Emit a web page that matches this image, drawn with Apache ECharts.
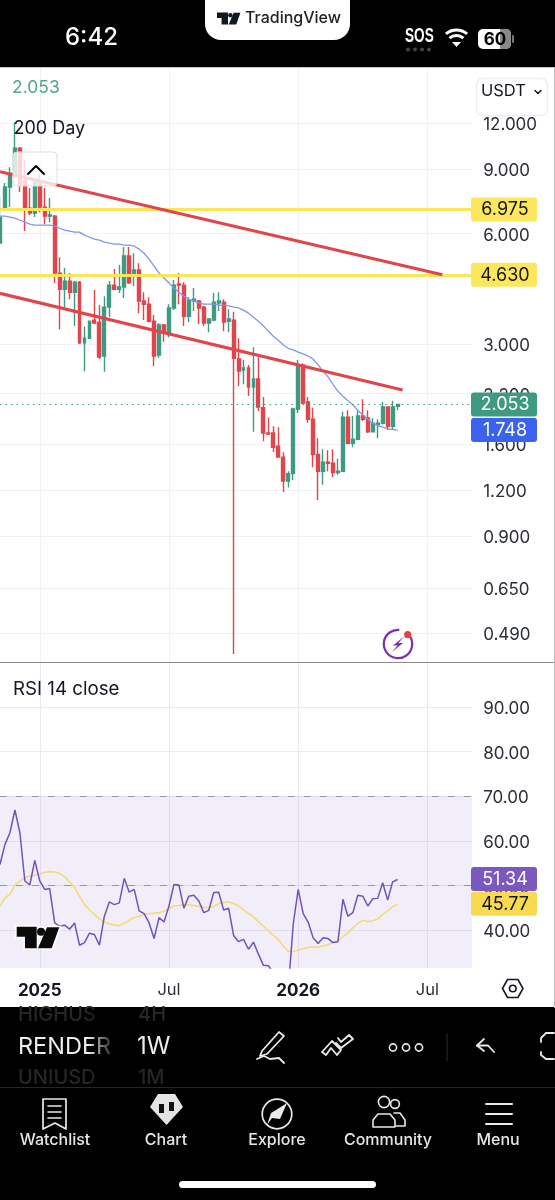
<!DOCTYPE html>
<html><head><meta charset="utf-8">
<style>html,body{margin:0;padding:0;background:#000}#c{width:555px;height:1200px}</style>
<script src="https://cdn.jsdelivr.net/npm/echarts@6/dist/echarts.min.js"></script>
</head><body><div id="c"></div>
<script>
// weekly candles, oldest visible first
const opens=[5.65,7.03,8.03,8.65,10.25,8.38,7.03,6.82,8.23,7.08,6.69,6.69,4.68,4.23,4.45,4.15,4.42,3.02,3.11,3.485,3.44,2.78,3.78,4.34,4.23,4.29,5.21,4.65,4.77,3.93,3.85,3.46,2.80,3.38,3.23,3.76,4.37,4.34,3.57,3.93,3.93,3.78,3.42,3.485,3.88,3.90,3.46,3.485,2.73,2.547,2.58,2.29,2.41,2.01,1.716,1.716,1.58,1.475,1.27,1.33,1.995,2.63,2.085,1.87,1.50,1.35,1.43,1.42,1.34,1.35,1.895,1.61,1.65,1.91,1.885,1.73,1.81,1.825,2.02,1.79,2.03];
const closes=[6.64,8.03,8.76,10.25,8.13,7.03,6.82,8.28,7.08,6.69,6.735,4.68,4.23,4.45,4.15,4.42,3.02,3.11,3.46,3.42,2.765,3.78,4.34,4.23,4.29,5.21,4.40,4.77,3.93,3.85,3.46,2.78,3.38,3.21,3.76,4.34,4.34,3.57,3.95,3.97,3.76,3.42,3.51,3.90,3.93,3.44,3.51,2.74,2.53,2.58,2.29,2.41,2.02,1.716,1.705,1.57,1.475,1.27,1.33,1.995,2.61,2.07,1.87,1.50,1.35,1.43,1.42,1.34,1.35,1.895,1.61,1.65,1.91,1.87,1.73,1.825,1.825,2.02,1.79,2.02,2.053];
const highs=[7.54,8.23,9.09,12.06,10.32,9.50,7.98,8.33,8.76,7.98,7.49,6.735,5.17,4.83,4.68,4.45,4.45,3.34,3.46,4.206,3.83,4.05,4.45,4.80,4.92,5.51,5.51,5.30,4.98,4.15,4.02,3.60,3.42,3.40,3.85,4.478,4.68,4.42,4.02,4.26,3.95,3.81,3.53,4.13,4.15,3.97,3.73,3.67,3.11,2.712,2.63,2.94,2.76,2.15,1.89,1.79,1.78,1.52,1.35,2.01,2.712,2.66,2.15,2.01,1.66,1.55,1.54,1.55,1.46,1.96,1.98,1.91,1.97,2.12,1.98,1.885,1.87,2.085,2.02,2.10,2.06];
const lows=[5.65,6.95,7.08,8.49,7.78,6.09,6.735,6.65,6.86,6.36,6.44,4.40,3.29,3.78,3.97,3.36,3.00,2.53,3.09,3.40,2.73,2.52,3.55,4.21,4.13,4.00,4.37,4.31,3.64,3.485,3.44,2.61,2.75,3.04,3.13,3.71,3.85,3.36,3.44,3.69,3.40,3.36,3.23,3.46,3.69,3.25,3.23,0.429,2.30,2.33,2.165,1.73,1.97,1.63,1.695,1.52,1.475,1.185,1.22,1.278,1.945,2.055,1.83,1.385,1.127,1.24,1.35,1.30,1.32,1.35,1.60,1.57,1.65,1.85,1.716,1.73,1.66,1.81,1.748,1.748,1.98];
const priceMA=[6.69,6.69,6.65,6.61,6.52,6.44,6.36,6.32,6.32,6.32,6.32,6.28,6.20,6.13,6.09,6.05,6.05,5.94,5.86,5.79,5.755,5.68,5.65,5.61,5.61,5.58,5.58,5.54,5.44,5.30,5.11,4.89,4.68,4.54,4.40,4.26,4.15,4.05,3.97,3.93,3.88,3.85,3.85,3.85,3.83,3.83,3.81,3.78,3.76,3.71,3.64,3.55,3.46,3.36,3.25,3.15,3.07,2.98,2.92,2.89,2.85,2.82,2.78,2.73,2.63,2.53,2.44,2.33,2.23,2.16,2.10,2.05,1.98,1.92,1.87,1.825,1.80,1.78,1.76,1.755,1.748];
const rsi=[54.7,59.2,61.8,66.9,61.8,51.0,50.1,55.6,51.0,49.1,49.3,41.6,40.9,41.1,40.2,41.6,36.6,37.2,39.3,39.0,36.6,43.1,46.3,45.7,46.1,51.6,48.5,49.1,44.3,43.7,41.6,38.1,42.8,41.8,45.4,50.2,50.1,44.9,47.6,47.8,46.5,43.9,44.4,48.4,48.5,44.5,44.9,38.8,37.4,37.9,35.7,37.3,34.6,32.1,32.0,30.5,29.5,27.5,26.7,41.3,49.1,43.7,41.8,38.3,37.0,38.3,38.1,37.2,37.4,46.9,43.1,43.9,47.8,47.6,45.4,47.0,47.1,50.6,46.7,50.8,51.34];
const rsiMA=[45.4,47.2,48.0,50.0,51.0,51.7,52.1,52.3,52.6,52.9,53.1,53.0,52.7,51.9,50.8,49.5,47.6,45.7,44.5,43.5,42.5,41.8,41.4,41.1,41.0,41.5,42.2,42.8,43.1,43.5,43.7,43.7,43.9,44.2,44.8,45.4,45.5,45.7,45.6,45.5,45.3,45.1,45.0,45.3,45.9,46.2,46.3,46.0,45.4,44.5,43.7,43.0,41.8,40.9,39.8,38.8,37.9,36.4,35.2,35.2,35.5,35.8,36.1,36.2,36.2,36.4,36.7,37.2,37.5,38.5,39.4,40.5,41.5,42.2,41.9,42.1,42.5,43.5,44.3,45.2,45.77];
const trendUpper=[[0,8.84],[89,4.63]];
const trendLower=[[0,4.12],[81,2.247]];
const levelHigh=6.975, levelLow=4.63;
const lastPrice=2.053, lastMA=1.748;
const priceGridTicks=[15.5,12,9,6,3,2.2,1.6,1.2,0.9,0.65,0.49];
const priceLabelTicks=[12,9,6,3,2.2,1.6,1.2,0.9,0.65,0.49];
const rsiTicks=[90,80,70,60,50,40];
const xTickIndex=[8,34,60,86];
const xTickLabels=['2025','Jul','2026','Jul'];
const categories=Array.from({length:96},(_,i)=>'w'+i);

const FONT='Inter, "Liberation Sans", sans-serif';
const GREEN='#3f9a82',RED='#e1454c',GRID='#f1f1f1';
const isTick=i=>xTickIndex.includes(i);
const candles=opens.map((o,i)=>[o,closes[i],lows[i],highs[i]]);
const chart=echarts.init(document.getElementById('c'),null,{renderer:'canvas'});
const noLine={show:false};
const axisRich={a:{fontFamily:FONT,fontSize:17,color:'#2a2e39',padding:[4,0,0,0]}};

const option={
  animation:false,backgroundColor:'#fff',
  grid:[{left:0,right:82.85,top:67,height:595},{left:0,right:82.85,top:663,height:305}],
  xAxis:[
    {type:'category',gridIndex:0,data:categories,boundaryGap:false,axisLine:noLine,axisTick:noLine,axisLabel:{show:false},
     splitLine:{show:true,interval:(i)=>isTick(i),lineStyle:{color:GRID,width:1}}},
    {type:'category',gridIndex:1,data:categories,boundaryGap:false,axisLine:noLine,axisTick:noLine,
     splitLine:{show:true,interval:(i)=>isTick(i),lineStyle:{color:'#ebe9f1',width:1}},
     axisLabel:{show:true,interval:(i)=>isTick(i),margin:14,hideOverlap:false,
       formatter:(v,i)=>{const k=xTickIndex.indexOf(i);if(k<0)return '';const s=xTickLabels[k];return /^\d/.test(s)?'{b|'+s+'}':'{n|'+s+'}';},
       rich:{b:{fontFamily:FONT,fontSize:17,fontWeight:700,color:'#131722'},n:{fontFamily:FONT,fontSize:16.5,color:'#2a2e39'}}}}
  ],
  yAxis:[
    {type:'log',logBase:10,gridIndex:0,position:'right',min:0.408,max:17.05,axisLine:noLine,
     axisTick:{show:false,customValues:priceLabelTicks},
     splitLine:{show:true,customValues:priceGridTicks,lineStyle:{color:GRID,width:1}},minorSplitLine:{show:false},
     axisLabel:{show:true,customValues:priceLabelTicks,margin:11,formatter:v=>'{a|'+Number(v).toFixed(3)+'}',rich:axisRich}},
    {type:'value',gridIndex:1,position:'right',min:31.5,max:99.84,axisLine:noLine,
     axisTick:{show:false,customValues:rsiTicks},
     splitLine:{show:true,customValues:rsiTicks,lineStyle:{color:'#ebe9f1',width:1}},
     axisLabel:{show:true,customValues:rsiTicks,margin:11,formatter:v=>'{a|'+Number(v).toFixed(2)+'}',rich:axisRich}}
  ],
  series:[
    {type:'candlestick',name:'RENDER',xAxisIndex:0,yAxisIndex:0,data:candles,barWidth:3.4,z:3,silent:true,
     itemStyle:{color:GREEN,color0:RED,borderColor:GREEN,borderColor0:RED,borderWidth:1.4}},
    {type:'line',name:'MA',xAxisIndex:0,yAxisIndex:0,data:priceMA,symbol:'none',z:4,silent:true,lineStyle:{color:'#7f97e8',width:1.3},
     markLine:{silent:true,symbol:'none',label:{show:false},animation:false,data:[
       {yAxis:levelHigh,lineStyle:{color:'#fbe65a',width:3,type:'solid'}},
       {yAxis:levelLow,lineStyle:{color:'#fbe65a',width:3,type:'solid'}},
       {yAxis:lastPrice,lineStyle:{color:GREEN,width:1.2,type:[1.5,4]}}]}},
    {type:'line',name:'TrendU',xAxisIndex:0,yAxisIndex:0,data:trendUpper,symbol:'none',z:5,silent:true,lineStyle:{color:RED,width:3.2}},
    {type:'line',name:'TrendL',xAxisIndex:0,yAxisIndex:0,data:trendLower,symbol:'none',z:5,silent:true,lineStyle:{color:RED,width:3.2}},
    {type:'line',name:'RSI',xAxisIndex:1,yAxisIndex:1,data:rsi,symbol:'none',z:5,silent:true,lineStyle:{color:'#7154b8',width:1.5},
     markArea:{silent:true,itemStyle:{color:'rgba(126,87,194,0.10)'},data:[[{yAxis:70},{yAxis:31.5}]]},
     markLine:{silent:true,symbol:'none',label:{show:false},animation:false,data:[
       {yAxis:70,lineStyle:{color:'#9a97a3',width:1,type:[7,9]}},
       {yAxis:50,lineStyle:{color:'#9a97a3',width:1,type:[7,9]}}]}},
    {type:'line',name:'RSI MA',xAxisIndex:1,yAxisIndex:1,data:rsiMA,symbol:'none',z:4,silent:true,lineStyle:{color:'#efdc78',width:1.6}}
  ]
};
chart.setOption(option);

// --- chrome and overlays ---
const g=[];
const T=(x,y,text,o={})=>g.push({type:'text',z:200,silent:true,x,y,scaleX:o.sx||1,style:{text,fontFamily:o.font||FONT,fontSize:o.size||17,fontWeight:o.weight||400,fill:o.fill||'#131722',textAlign:o.align||'left',textVerticalAlign:'middle',opacity:o.op==null?1:o.op}});
const R=(x,y,w,h,fill,o={})=>g.push({type:'rect',z:o.z||150,silent:true,shape:{x,y,width:w,height:h,r:o.r||0},style:{fill,stroke:o.stroke||null,lineWidth:o.lw||1}});
const P=(points,stroke,lw=2,o={})=>g.push({type:'polyline',z:210,silent:true,shape:{points},style:{stroke:stroke,lineWidth:lw,fill:null,lineCap:'round',lineJoin:'round'}});
const C=(cx,cy,r,stroke,lw=2,fill=null)=>g.push({type:'circle',z:210,silent:true,shape:{cx,cy,r},style:{stroke,lineWidth:lw,fill}});
const A=(cx,cy,r,s,e,stroke,lw=2)=>g.push({type:'arc',z:210,silent:true,shape:{cx,cy,r,startAngle:s,endAngle:e,clockwise:true},style:{stroke,lineWidth:lw,fill:null}});

const yP=v=>chart.convertToPixel({yAxisIndex:0},v);
const yR=v=>chart.convertToPixel({yAxisIndex:1},v);
const tag=(y,label,bg,fg)=>{R(471,y-12,66,24,bg,{r:3,z:180});T(505,y+.5,label,{align:'center',fill:fg,size:18});};

// top status bar
R(0,0,555,67,'#000');
R(0,67,555,1,'#c9c9c9');
T(65,38,'6:42',{size:24,weight:500,fill:'#fff'});
R(205,-2,145,42,'#fff',{r:[0,0,16,16],z:160});
const logo=(ox,oy,s,fill,stroke)=>{
  const m=(a)=>a.map(p=>[ox+p[0]*s,oy+p[1]*s]);
  const st=stroke||null,lw=stroke?3:0;
  g.push({type:'polygon',z:208,silent:true,shape:{points:m([[0,0],[20,0],[20,21.6],[8.3,21.6],[8.3,10],[0,10]])},style:{fill,stroke:st,lineWidth:lw}});
  g.push({type:'circle',z:208,silent:true,shape:{cx:ox+24.3*s,cy:oy+5*s,r:4*s},style:{fill,stroke:st,lineWidth:lw}});
  g.push({type:'polygon',z:208,silent:true,shape:{points:m([[30.3,.6],[42.6,.6],[35,21.6],[21.3,21.6]])},style:{fill,stroke:st,lineWidth:lw}});
  if(stroke){
    g.push({type:'polygon',z:209,silent:true,shape:{points:m([[0,0],[20,0],[20,21.6],[8.3,21.6],[8.3,10],[0,10]])},style:{fill}});
    g.push({type:'circle',z:209,silent:true,shape:{cx:ox+24.3*s,cy:oy+5*s,r:4*s},style:{fill}});
    g.push({type:'polygon',z:209,silent:true,shape:{points:m([[30.3,.6],[42.6,.6],[35,21.6],[21.3,21.6]])},style:{fill}});
  }
};
logo(217,12.5,.55,'#131722');
T(245,18,'TradingView',{size:16,weight:500,fill:'#222'});
T(405,36,'SOS',{size:20,weight:700,fill:'#fff',sx:.68,font:'"Liberation Sans",sans-serif'});
[0,1,2,3].forEach(i=>C(408+i*7,49.5,2,'#444',0,'#444'));
A(456.5,46,16,Math.PI*1.27,Math.PI*1.73,'#fff',3);
A(456.5,46,10.5,Math.PI*1.27,Math.PI*1.73,'#fff',3);
g.push({type:'polygon',z:210,silent:true,shape:{points:[[456.5,47],[452,42],[461,42]]},style:{fill:'#fff'}});
R(478,29,33,20,'#fff',{r:5,z:190});
R(500,29,11,20,'#888',{r:[0,5,5,0],z:191});
R(512,35,2,8,'#777',{r:1,z:191});
T(495,39.5,'60',{size:17,weight:700,fill:'#000',align:'center'});

// price pane text
T(12,87.5,'2.053',{size:17.5,fill:'#52a78f'});
T(13.5,128.5,'200 Day',{size:18,fill:'#131722'});
R(13,152,44,34,'rgba(255,255,255,0.78)',{r:4,stroke:'#dedede',lw:1,z:160});
P([[28,174],[36,166],[44,174]],'#000',2);
R(476.5,78.5,71,37,'#fff',{r:6,stroke:'#efefef',lw:1.5,z:170});
T(481,91,'USDT',{size:16.5,fill:'#131722'});
P([[535,90.5],[538,93.5],[541,90.5]],'#131722',1.5);

// tags
tag(yP(levelHigh),'6.975','#fce75c','#131722');
tag(yP(levelLow),'4.630','#fce75c','#131722');
tag(yP(lastPrice),'2.053',GREEN,'#fff');
tag(yP(lastMA),'1.748','#3a62ee','#fff');
tag(yR(51.34)-.5,'51.34','#7a58bf','#fff');
tag(yR(45.77)-.5,'45.77','#f7da50','#131722');

// lightning
A(398,644,14.2,-Math.PI*0.2,-Math.PI*0.47+Math.PI*2,'#7e2fae',2.2);
g.push({type:'polygon',z:210,silent:true,shape:{points:[[404,636.5],[393,645.5],[397.5,645.5],[392,652],[403,643],[398.5,643]]},style:{fill:'#7e2fae'}});
C(407.7,634.7,3.6,'#fff',0,'#e8413f');

// separators
R(0,662,555,1,'#8a8a8a',{z:170});
R(554,68,1,940,'#bdbdbd',{z:170});
T(13,689.5,'RSI 14 close',{size:18.7});
logo(16.7,926.7,1,'#0b0b0b','#fff');

// hexagon settings
g.push({type:'polygon',z:210,silent:true,shape:{points:[[502.5,988.5],[507.5,979.5],[518,979.5],[523,988.5],[518,997.5],[507.5,997.5]]},style:{fill:null,stroke:'#131722',lineWidth:1.6}});
C(512.8,988.5,3.3,'#131722',1.6);

// bottom bar
R(0,1007,555,193,'#000',{z:150});
T(18,1015,'HIGHUS',{size:20,fill:'#262626',weight:500});
T(138,1015,'4H',{size:20,fill:'#262626',weight:500});
T(18,1047,'RENDER',{size:23.5,fill:'#ededed',weight:400});
T(137,1047,'1W',{size:24,fill:'#ededed',weight:400});
T(18,1078,'UNIUSD',{size:20,fill:'#262626',weight:500});
T(138,1078,'1M',{size:20,fill:'#262626',weight:500});
g.push({type:'rect',z:201,silent:true,shape:{x:88,y:1008,width:26,height:79},style:{fill:{type:'linear',x:0,y:0,x2:1,y2:0,colorStops:[{offset:0,color:'rgba(0,0,0,0)'},{offset:1,color:'rgba(0,0,0,0.9)'}]}}});
R(0,1087,555,1,'#262626',{z:160});
const W='#e9e9e9';
// pencil
P([[262,1051],[279,1032],[284,1036],[267,1054],[260,1056],[262,1051]],W,1.8);
P([[257,1059],[264,1056],[270,1059],[279,1058],[284,1063]],W,1.8);
// tools
P([[322,1052],[332,1041],[341,1050],[337,1055],[331,1048],[326,1055],[322,1052]],W,1.8);
P([[336,1043],[341,1048],[353,1039],[349,1035],[341,1042],[338,1038]],W,1.8);
C(393,1047.5,3.6,W,1.6);C(406,1047.5,3.6,W,1.6);C(419,1047.5,3.6,W,1.6);
R(446.5,1033,1,28,'#2a2a2a',{z:205});
P([[484,1039],[477,1045.5],[484,1051]],W,1.8);
P([[477,1045.5],[488,1045.5],[494,1052]],W,1.8);
P([[554,1033],[546,1033],[541,1038],[541,1042]],W,1.8);
P([[541,1052],[541,1055],[546,1059],[554,1059]],W,1.8);
// nav icons
P([[43,1099],[66,1099],[66,1129],[55,1123],[43,1129],[43,1099]],W,1.7);
P([[48,1106],[61,1106]],W,1.6);P([[48,1112],[61,1112]],W,1.6);P([[48,1118],[61,1118]],W,1.6);
g.push({type:'polygon',z:210,silent:true,shape:{points:[[150,1107],[158,1094],[175,1094],[183,1107],[166.5,1125]]},style:{fill:'#e4e4e4'}});
R(159,1104,5,9,'#111',{z:212});R(169,1102,5,9,'#111',{z:212});
C(277,1114,14.8,W,1.7);
g.push({type:'polygon',z:211,silent:true,shape:{points:[[287,1103],[280,1119],[272,1118],[267,1125],[271,1113],[276,1110]]},style:{fill:W}});
C(384,1102,5.6,W,1.6);C(395,1104,4.4,W,1.6);
P([[373,1127],[373,1120],[378,1114],[390,1114],[395,1120],[395,1127],[373,1127]],W,1.6);
P([[394,1113],[400,1113],[405,1120],[405,1126],[396,1126]],W,1.6);
P([[486,1104],[512,1104]],W,2);P([[486,1114],[512,1114]],W,2);P([[486,1124],[512,1124]],W,2);
[['Watchlist',55],['Chart',166],['Explore',277],['Community',388],['Menu',498]].forEach(a=>T(a[1],1140.5,a[0],{size:16,weight:500,fill:'#e6e6e6',align:'center'}));
R(179,1181,197,7,'#fff',{r:3.5,z:205});

chart.setOption({graphic:{elements:g}});
</script></body></html>
